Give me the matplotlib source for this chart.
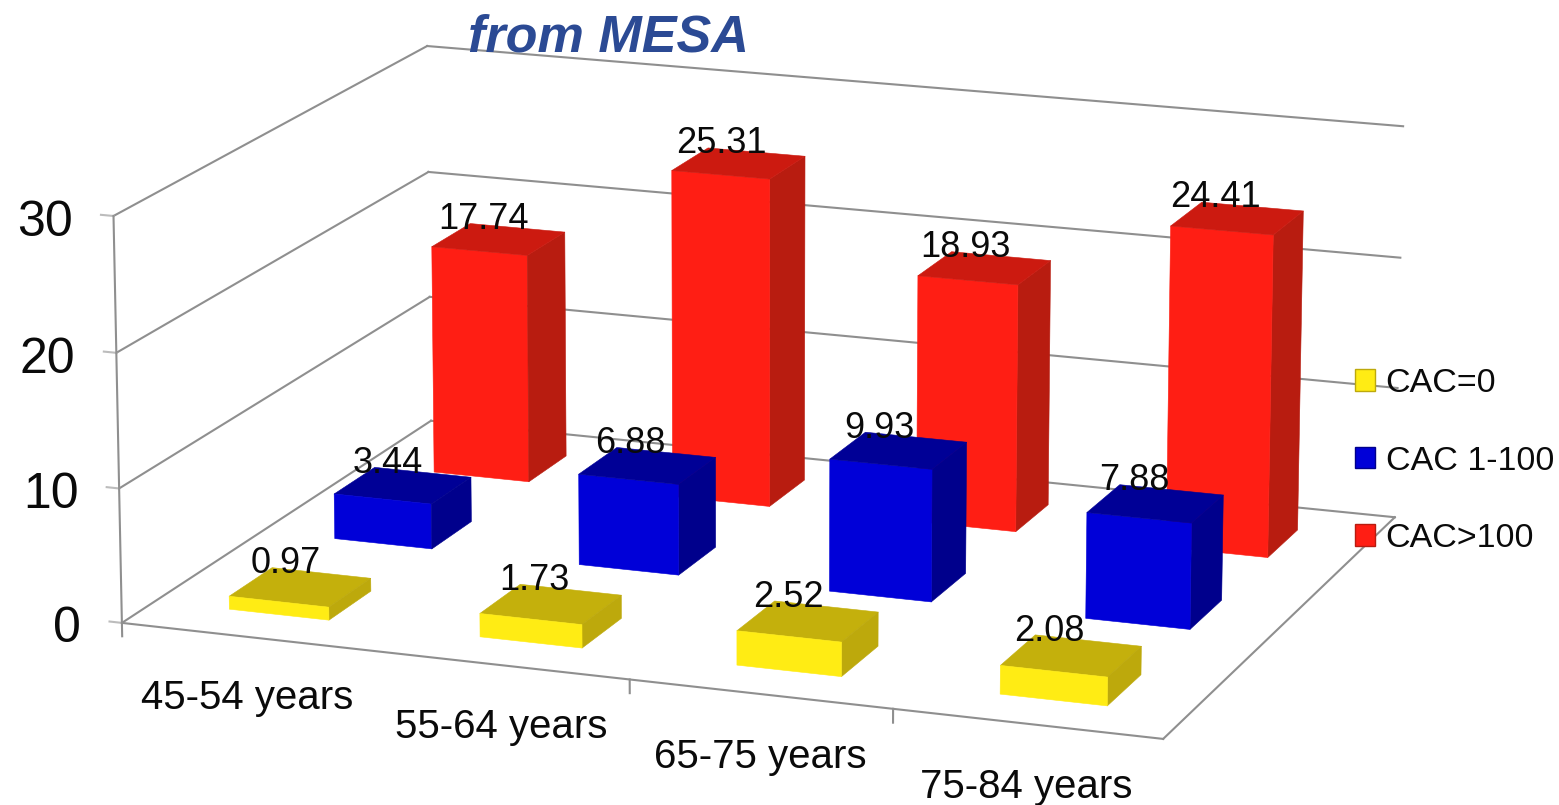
import numpy as np
import matplotlib
matplotlib.use("Agg")
import matplotlib.pyplot as plt
from matplotlib.patches import Patch
from mpl_toolkits.mplot3d import proj3d

plt.rcParams['font.family'] = ['Liberation Sans', 'DejaVu Sans']

# chart values
age_groups = ["45-54 years", "55-64 years", "65-75 years", "75-84 years"]
series_names = ["CAC=0", "CAC 1-100", "CAC>100"]
cac_zero = [0.97, 1.73, 2.52, 2.08]
cac_low = [3.44, 6.88, 9.93, 7.88]
cac_high = [17.74, 25.31, 18.93, 24.41]
z_ticks = [0, 10, 20, 30]
x_ticks = [2, 3]

# front, top and side shades for each series
shades = [
    ("#ffec14", "#c4b00c", "#bda90c"),
    ("#0000d8", "#000096", "#00008c"),
    ("#ff1e14", "#cc1a10", "#b81c10"),
]
FRAME = "#8f8f8f"
TICK = "#bcbcbc"
INK = "#0a0a0a"
W, H = 1559, 805
BAR = 0.4


def fit_camera():
    # box corners in chart units and where they land on the canvas
    world = [(0, 0, 0), (4, 0, 0), (4, 3, 0), (0, 3, 0),
             (0, 0, 30), (0, 3, 30), (4, 3, 30),
             (0, 0, 10), (0, 0, 20), (4, 3, 10), (4, 3, 20)]
    canvas = [(122, 625), (1163, 738), (1395, 517), (430, 419),
              (112, 216), (428, 47), (1403, 125),
              (120, 488), (117, 352), (1398, 390), (1400, 258)]
    rows, rhs = [], []
    for (x, y, z), (u, v) in zip(world, canvas):
        rows.append([x, y, z, 1, 0, 0, 0, 0, -u * x, -u * y, -u * z])
        rows.append([0, 0, 0, 0, x, y, z, 1, -v * x, -v * y, -v * z])
        rhs += [u, v]
    p = np.linalg.lstsq(np.array(rows, float), np.array(rhs, float), rcond=None)[0]
    return np.array([p[:4], p[4:8], [-1, 1, -0.1, 0], [p[8], p[9], p[10], 1.0]])


fig = plt.figure(figsize=(W / 100, H / 100), dpi=100, facecolor="white")
ax = fig.add_axes([0, 0, 1, 1], projection="3d", proj_type="ortho",
                  computed_zorder=False)
ax.set_xticks([])
ax.set_yticks([])
ax.set_zticks([])
ax.set_axis_off()

# the axes draws straight in canvas pixels through a fitted projection
camera = fit_camera()
ax.get_proj = lambda: camera
ax.apply_aspect = lambda position=None: None
ax.viewLim.intervalx = (0, W)
ax.viewLim.intervaly = (H, 0)


def frame_line(xs, ys, zs, color=FRAME):
    ax.plot(xs, ys, zs, color=color, lw=1.5, zorder=1)


def label(x, y, z, s, **kw):
    px, py, _ = proj3d.proj_transform(x, y, z, camera)
    ax.text2D(px, py, s, transform=ax.transData, color=INK, zorder=30, **kw)


# walls
for z in z_ticks:
    frame_line([0, 0], [0, 3], [z, z])
    frame_line([0, 4], [3, 3], [z, z])
    frame_line([-0.05, 0], [0, 0], [z, z], TICK)
    label(-0.165, 0, z - 0.8, str(z), fontsize=36, ha="right", va="center")
frame_line([0, 0], [0, 0], [-1, 30])
frame_line([0, 4], [0, 0], [0, 0])
frame_line([4, 4], [0, 3], [0, 0])
for i in x_ticks:
    frame_line([i, i], [0, 0], [0, -1])

# bars, back row first
series_values = [cac_zero, cac_low, cac_high]
clear = (0, 0, 0, 0)
for j in (2, 1, 0):
    front, top, side = shades[j]
    for i, value in enumerate(series_values[j]):
        # face order in bar3d: bottom, top, front, back, left, right
        colors = [clear, top, front, clear, clear, side]
        x0 = i + 0.5 - BAR / 2
        y0 = j + 0.5 - BAR / 2
        ax.bar3d(x0, y0, 0, BAR, BAR, value, color=colors, shade=False,
                 edgecolor=colors, linewidth=0.4, zorder=10 + 2 - j)
        label(x0 + 0.055, y0 + BAR, value - 0.3, f"{value:.2f}", fontsize=26,
              ha="center", va="baseline")

for i, name in enumerate(age_groups):
    label(i + 0.5, 0, -4.55, name, fontsize=29, ha="center", va="center")

handles = [Patch(facecolor=shades[j][0], edgecolor=shades[j][2], lw=1.0)
           for j in range(3)]
leg = ax.legend(handles, series_names, loc="upper left", frameon=False,
                bbox_to_anchor=(1355 / W, 1 - 368 / H), fontsize=24.5,
                handlelength=0.6, handleheight=0.6, handletextpad=0.3,
                labelspacing=1.37, borderpad=0, borderaxespad=0,
                labelcolor=INK)
leg.set_zorder(40)

fig.text(468 / W, 1 - 52 / H, "from MESA", fontsize=37.5, fontweight="bold",
         fontstyle="italic", color="#2b4a94", ha="left", va="baseline")

fig.savefig("out.png", dpi=100)
